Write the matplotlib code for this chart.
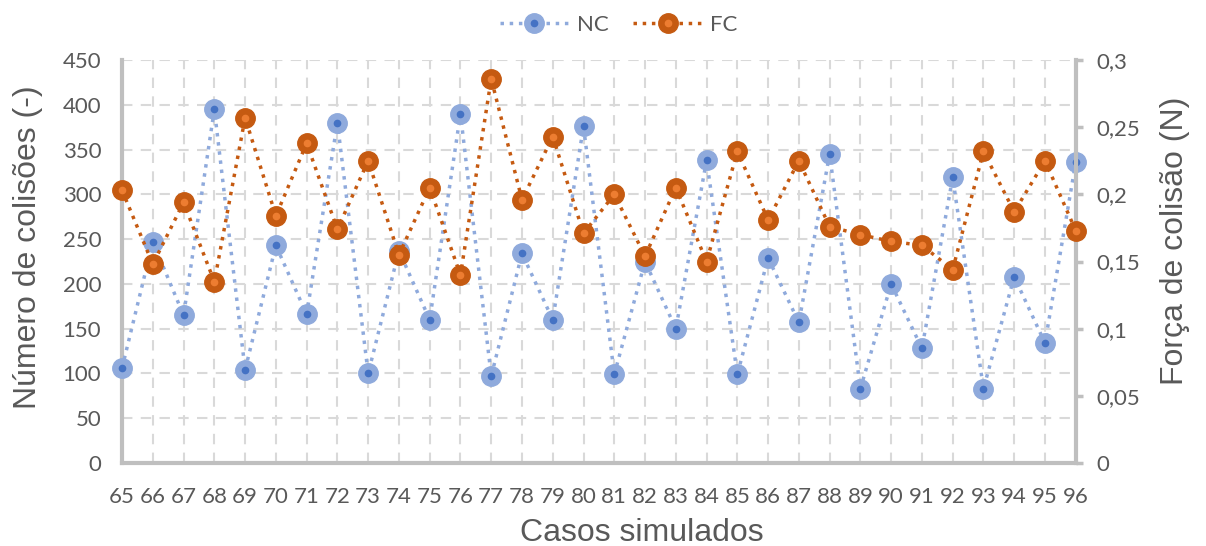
import matplotlib
matplotlib.use('Agg')
import matplotlib.pyplot as plt
from matplotlib.legend_handler import HandlerTuple
from matplotlib.ticker import FuncFormatter

# Casos simulados 65..96
casos = list(range(65, 97))

# NC - número de colisões (eixo esquerdo)
nc = [106, 247, 165, 395, 104, 243, 166, 380, 100, 237,
      160, 390, 97, 234, 160, 376, 99, 225, 150, 338,
      99, 229, 157, 345, 83, 200, 128, 319, 83, 208,
      134, 336]

# FC - força de colisão em N (eixo direito)
fc = [0.203, 0.148, 0.194, 0.135, 0.257, 0.184, 0.238, 0.174, 0.225, 0.155,
      0.205, 0.140, 0.286, 0.196, 0.243, 0.171, 0.200, 0.154, 0.205, 0.150,
      0.232, 0.181, 0.225, 0.176, 0.170, 0.165, 0.162, 0.144, 0.232, 0.187,
      0.225, 0.173]

txt = '#595959'
spine_c = '#BFBFBF'
grid_c = '#D9D9D9'
nc_line, nc_dot = '#8FAADC', '#4472C4'
fc_line, fc_dot = '#C55A11', '#ED7D31'
tick_font = 'Lato'
label_font = 'Liberation Sans'

fig = plt.figure(figsize=(12.06, 5.46), dpi=100)
ax = fig.add_axes([0.1012, 0.152, 0.7908, 0.738])
ax2 = ax.twinx()

# grid
ax.set_axisbelow(True)
ax.grid(True, color=grid_c, linestyle=(0, (5, 4)), linewidth=1.5)

# NC series
l1, = ax.plot(casos, nc, color=nc_line, linestyle=':', linewidth=2.5,
              marker='o', markersize=14, markerfacecolor=nc_line,
              markeredgecolor=nc_line, zorder=3, clip_on=False)
d1, = ax.plot(casos, nc, linestyle='none', marker='o', markersize=4.5,
              color=nc_dot, zorder=4, clip_on=False)

# FC series
l2, = ax2.plot(casos, fc, color=fc_line, linestyle=':', linewidth=2.5,
               marker='o', markersize=14, markerfacecolor=fc_line,
               markeredgecolor=fc_line, zorder=3, clip_on=False)
d2, = ax2.plot(casos, fc, linestyle='none', marker='o', markersize=4.5,
               color=fc_dot, zorder=4, clip_on=False)

ax.set_xlim(65, 96)
ax.set_ylim(0, 450)
ax.set_yticks(range(0, 451, 50))
ax.set_xticks(casos)
ax2.set_ylim(0, 0.3)
ax2.set_yticks([0, 0.05, 0.1, 0.15, 0.2, 0.25, 0.3])
ax2.yaxis.set_major_formatter(FuncFormatter(lambda v, p: ('%g' % round(v, 2)).replace('.', ',')))

for a in (ax, ax2):
    a.spines['top'].set_visible(False)
    for s in ('left', 'right', 'bottom'):
        a.spines[s].set_color(spine_c)
        a.spines[s].set_linewidth(3)
ax.spines['right'].set_visible(False)
ax2.spines['left'].set_visible(False)
ax2.spines['bottom'].set_visible(False)

ax.tick_params(axis='y', length=0, labelsize=16, labelcolor=txt, pad=15)
ax.tick_params(axis='x', length=0, labelsize=16, labelcolor=txt, pad=17)
ax2.tick_params(axis='y', length=5, width=2.5, color=spine_c, labelsize=16,
                labelcolor=txt, pad=10)
for lab in ax.get_xticklabels() + ax.get_yticklabels() + ax2.get_yticklabels():
    lab.set_fontfamily(tick_font)

ax.set_xlabel('Casos simulados', fontsize=23, color=txt, family=label_font)
ax.set_ylabel('Número de colisões (-)', fontsize=23, color=txt, family=label_font)
ax2.set_ylabel('Força de colisão (N)', fontsize=23, color=txt, family=label_font)
ax.xaxis.set_label_coords(0.5446, -0.136)
ax.yaxis.set_label_coords(-0.083, 0.536)
ax2.yaxis.set_label_coords(1.088, 0.552)

leg = fig.legend([(l1, d1), (l2, d2)], ['NC', 'FC'],
                 handler_map={tuple: HandlerTuple(ndivide=1)},
                 loc='upper center', bbox_to_anchor=(0.513, 1.01), ncol=2,
                 frameon=False, handlelength=3.1, handletextpad=0.36,
                 columnspacing=1.1,
                 prop={'family': tick_font, 'size': 16})
for t in leg.get_texts():
    t.set_color(txt)

fig.savefig('out.png', dpi=100)
